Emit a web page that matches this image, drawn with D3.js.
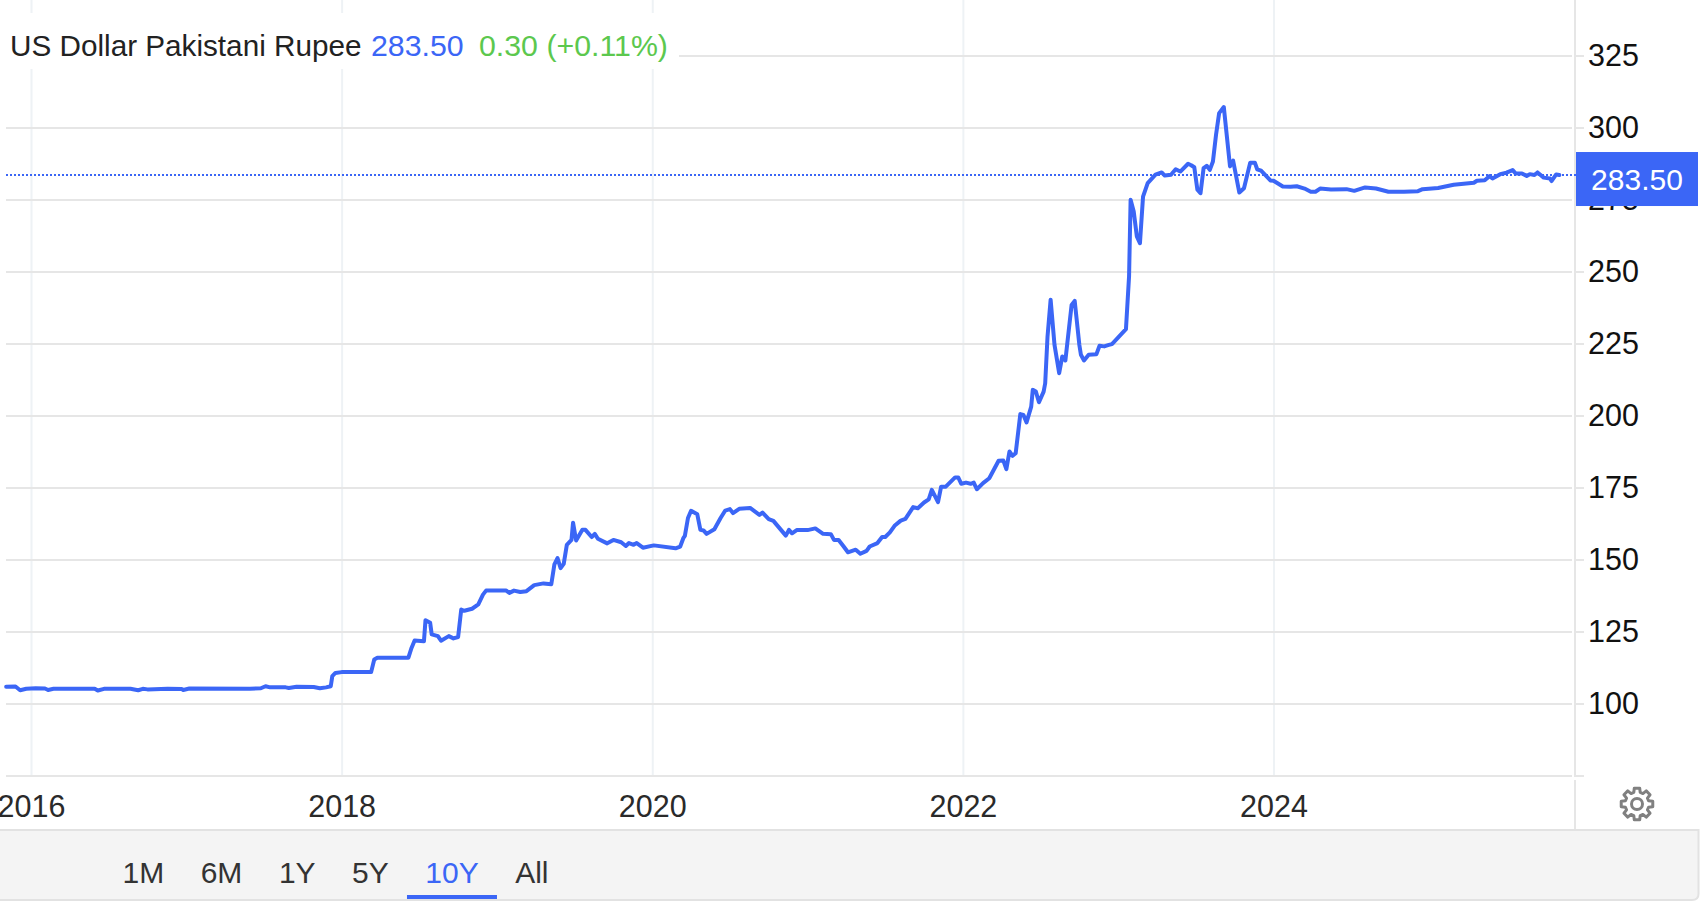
<!DOCTYPE html>
<html>
<head>
<meta charset="utf-8">
<script src="https://cdn.jsdelivr.net/npm/d3@7"></script>
<style>
  html, body { margin: 0; padding: 0; background: #fff; overflow: hidden; }
  svg { display: block; font-family: "Liberation Sans", Arial, sans-serif; }
  .domain { display: none; }
</style>
</head>
<body>
<div id="chart"></div>
<script>
// values: time as decimal year, then USD/PKR
var years = [
  2015.84,2015.90,2015.93,2015.97,2016.03,2016.09,2016.11,2016.145,2016.35,2016.41,2016.43,2016.47,2016.64,2016.69,2016.72,2016.75,2016.88,2016.97,2016.98,2017.02,
  2017.41,2017.48,2017.51,2017.54,2017.64,2017.66,2017.71,2017.82,2017.86,2017.90,2017.93,2017.94,2017.96,2018.0,2018.19,2018.21,2018.23,2018.43,2018.45,2018.47,
  2018.53,2018.54,2018.57,2018.58,2018.62,2018.64,2018.69,2018.72,2018.75,2018.77,2018.79,2018.84,2018.88,2018.91,2018.93,2019.06,2019.08,2019.11,2019.15,2019.19,
  2019.24,2019.30,2019.35,2019.37,2019.39,2019.41,2019.43,2019.45,2019.48,2019.49,2019.51,2019.55,2019.57,2019.61,2019.63,2019.65,2019.71,2019.75,2019.80,2019.83,
  2019.85,2019.88,2019.90,2019.94,2020.01,2020.15,2020.18,2020.20,2020.21,2020.23,2020.25,2020.29,2020.31,2020.33,2020.35,2020.40,2020.44,2020.47,2020.50,2020.52,
  2020.56,2020.63,2020.66,2020.69,2020.71,2020.75,2020.78,2020.86,2020.88,2020.90,2020.93,2021.00,2021.05,2021.10,2021.15,2021.17,2021.20,2021.23,2021.26,2021.31,
  2021.34,2021.38,2021.40,2021.45,2021.48,2021.50,2021.53,2021.56,2021.60,2021.63,2021.68,2021.71,2021.75,2021.78,2021.80,2021.84,2021.86,2021.89,2021.95,2021.97,
  2021.99,2022.02,2022.05,2022.07,2022.09,2022.13,2022.17,2022.23,2022.26,2022.28,2022.30,2022.32,2022.34,2022.37,2022.39,2022.41,2022.44,2022.45,2022.47,2022.49,
  2022.52,2022.53,2022.545,2022.565,2022.59,2022.62,2022.64,2022.66,2022.70,2022.72,2022.75,2022.76,2022.78,2022.81,2022.86,2022.88,2022.91,2022.94,2022.96,2022.99,
  2023.05,2023.07,2023.08,2023.10,2023.12,2023.14,2023.16,2023.19,2023.24,2023.28,2023.30,2023.34,2023.37,2023.40,2023.45,2023.47,2023.49,2023.51,2023.53,2023.55,
  2023.57,2023.59,2023.61,2023.63,2023.65,2023.68,2023.72,2023.74,2023.78,2023.81,2023.85,2023.88,2023.895,2023.92,2023.98,2024.0,2024.06,2024.11,2024.15,2024.20,
  2024.24,2024.27,2024.30,2024.37,2024.47,2024.52,2024.59,2024.66,2024.74,2024.84,2024.93,2024.96,2025.06,2025.16,2025.29,2025.31,2025.36,2025.39,2025.41,2025.46,
  2025.50,2025.54,2025.56,2025.60,2025.63,2025.65,2025.68,2025.70,2025.74,2025.78,2025.79,2025.82,2025.84
];
var rates = [
  105.8,105.9,104.6,105.1,105.3,105.2,104.7,105.1,105.1,105.1,104.5,105.1,105.1,104.6,105.1,104.9,105.1,105.0,104.7,105.2,
  105.1,105.3,106,105.6,105.6,105.4,105.8,105.7,105.3,105.6,106,109.5,110.6,110.9,110.9,115.3,115.9,115.9,119.3,121.9,
  121.6,128.9,128,124,123.4,121.8,123.4,122.6,123.1,132.6,132.2,132.9,134.4,137.8,139.2,139.2,138.4,139.2,138.7,139,
  141.1,141.7,141.4,148.3,150.5,147,148.5,155.1,156.8,162.8,156.6,160.3,160.3,157.8,158.9,157.2,155.6,156.8,156,154.7,
  155.7,155.1,155.7,154.1,154.9,153.9,154.5,157.4,158.2,164.4,166.9,165.7,160.3,160.1,158.9,160.5,164.4,167,167.5,166.1,
  167.6,167.9,166.7,165.5,166.3,164,163.4,158.3,160.3,159.1,160.2,160.2,160.8,158.9,158.8,156.8,156.8,154.7,152.5,153.4,
  152,153,154.5,155.7,157.8,157.8,159.4,161.7,163.5,164.1,168.2,167.8,169.8,170.9,174.2,169.9,175.3,175.3,178.5,178.5,
  176.3,176.7,176.3,176.7,174.4,176.5,178.2,184.3,184.4,181.4,187.5,186,186.9,200.5,200.2,197.6,203.1,208.9,208.3,204.6,
  208.3,211.2,227.4,240.2,224.5,214.7,220.5,219.1,238.4,239.8,224.5,221.1,219.1,221.1,221.3,224.2,224,224.5,224.8,226.5,
  230,248.3,274.9,270.8,262.2,259.8,276,280.7,283.6,284.4,283.3,283.6,285.5,284.7,287.4,286.9,286.2,278.4,277.2,285.9,
  286.7,285.3,288.2,297.5,305,307.1,286.5,288.5,277.4,278.9,287.8,287.8,285.5,285,281.6,281.5,279.5,279.4,279.6,278.8,
  277.7,277.7,278.8,278.5,278.6,278,279.2,278.8,277.7,277.7,277.9,278.6,279,280.1,280.8,281.5,281.7,283.1,282.3,283.8,
  284.3,285.2,284,284,283.2,283.8,283.5,284.4,282.6,282.3,281.4,283.7,283.5
];
var yearTicks = [2016, 2018, 2020, 2022, 2024];
var rateTicks = [100, 125, 150, 175, 200, 225, 250, 275, 300, 325];
var ranges = ["1M", "6M", "1Y", "5Y", "10Y", "All"];
var activeRange = "10Y";
var title = "US Dollar Pakistani Rupee";
var lastValue = 283.50;
var change = "0.30 (+0.11%)";

var width = 1704, height = 902;
var blue = "#3b66f6", green = "#5cc84e";

var svg = d3.select("#chart").append("svg").attr("width", width).attr("height", height);

var x = d3.scaleLinear().domain([2016, 2024]).range([31, 1273.5]);
var y = d3.scaleLinear().domain([75, 325]).range([775.5, 55.5]);

// grid
svg.append("g")
  .attr("transform", "translate(0,776)")
  .call(d3.axisBottom(x).tickValues(yearTicks).tickSize(-776).tickFormat(""))
  .selectAll("line").attr("stroke", "#eef2f5").attr("stroke-width", 2);

svg.append("g")
  .attr("transform", "translate(1572,0)")
  .call(d3.axisLeft(y).tickValues(rateTicks.concat([75])).tickSize(1566).tickFormat(""))
  .selectAll("line").attr("stroke", "#e6e6e6").attr("stroke-width", 2);

// right hand axis
svg.append("line").attr("x1", 1575).attr("x2", 1575).attr("y1", 0).attr("y2", 830)
  .attr("stroke", "#e6e6e6").attr("stroke-width", 2);
svg.append("line").attr("x1", 1570).attr("x2", 1576).attr("y1", 778.5).attr("y2", 778.5)
  .attr("stroke", "#fff").attr("stroke-width", 3);

var yAxis = svg.append("g")
  .attr("transform", "translate(1575,0)")
  .call(d3.axisRight(y).tickValues(rateTicks.concat([75])).tickSize(9).tickPadding(4)
    .tickFormat(function(d) { return d === 75 ? "" : d; }));
yAxis.selectAll("line").attr("stroke", "#e6e6e6").attr("stroke-width", 2);
yAxis.selectAll("text").attr("font-size", 30.5).attr("fill", "#111").attr("font-family", "Liberation Sans");

var xAxis = svg.append("g")
  .attr("transform", "translate(0,776)")
  .call(d3.axisBottom(x).tickValues(yearTicks).tickSize(0).tickPadding(19).tickFormat(d3.format("d")));
xAxis.selectAll("text").attr("font-size", 30.5).attr("fill", "#2a2a2a").attr("font-family", "Liberation Sans");

// title sits on a white patch over the grid
svg.append("rect").attr("x", 0).attr("y", 13).attr("width", 679).attr("height", 56).attr("fill", "#fff");

var head = svg.append("text").attr("x", 10).attr("y", 56);
head.append("tspan").attr("fill", "#222").attr("font-size", 29.7).text(title);
head.append("tspan").attr("x", 371).attr("fill", blue).attr("font-size", 30.3).text(lastValue.toFixed(2));
head.append("tspan").attr("x", 479).attr("fill", green).attr("font-size", 30.3).text(change);

// last price line
svg.append("line")
  .attr("x1", 6).attr("x2", 1576)
  .attr("y1", y(lastValue)).attr("y2", y(lastValue))
  .attr("stroke", blue).attr("stroke-width", 2).attr("stroke-dasharray", "2 2");

var line = d3.line()
  .x(function(d) { return x(d); })
  .y(function(d, i) { return y(rates[i]); });

svg.append("path")
  .attr("d", line(years))
  .attr("fill", "none")
  .attr("stroke", blue)
  .attr("stroke-width", 4)
  .attr("stroke-linejoin", "round")
  .attr("stroke-linecap", "round");

// price flag
svg.append("rect").attr("x", 1576).attr("y", y(lastValue) - 23).attr("width", 122).attr("height", 54).attr("fill", blue);
svg.append("text").attr("x", 1637).attr("y", y(lastValue) + 15).attr("text-anchor", "middle")
  .attr("font-size", 30).attr("fill", "#fff").text(lastValue.toFixed(2));

// gear
var gear = [];
for (var i = 0; i < 8; i++) {
  var a = i * Math.PI / 4 - Math.PI / 2;
  [[-0.27, 12], [-0.17, 16], [0.17, 16], [0.27, 12]].forEach(function(p) {
    gear.push([a + p[0], p[1]]);
  });
}
var g = svg.append("g").attr("transform", "translate(1637,804)")
  .attr("fill", "none").attr("stroke", "#808080").attr("stroke-width", 3).attr("stroke-linejoin", "round");
g.append("path").attr("d", d3.lineRadial().angle(function(d) { return d[0] + Math.PI / 2; }).radius(function(d) { return d[1]; }).curve(d3.curveLinearClosed)(gear));
g.append("circle").attr("r", 5.5);

// range bar
svg.append("path")
  .attr("d", "M0,830.5H1698V894Q1698,900 1692,900H0Z")
  .attr("fill", "#f4f4f4");
svg.append("path")
  .attr("d", "M0,830H1698.5V894Q1698.5,900 1692,900H0")
  .attr("fill", "none").attr("stroke", "#e2e2e2").attr("stroke-width", 2);

// tabs flow one after the other with an even gap
var tabLeft = 122.5, tabGap = 36.5;
var tabs = svg.append("g").selectAll("text").data(ranges).enter().append("text")
  .attr("y", 883)
  .attr("font-size", 30)
  .attr("fill", function(d) { return d === activeRange ? blue : "#333"; })
  .text(function(d) { return d; });
tabs.each(function(d) {
  var w = this.getComputedTextLength();
  d3.select(this).attr("x", tabLeft);
  if (d === activeRange) {
    svg.append("rect").attr("x", tabLeft + w / 2 - 45).attr("y", 895).attr("width", 90).attr("height", 4).attr("fill", blue);
  }
  tabLeft += w + tabGap;
});
</script>
</body>
</html>
